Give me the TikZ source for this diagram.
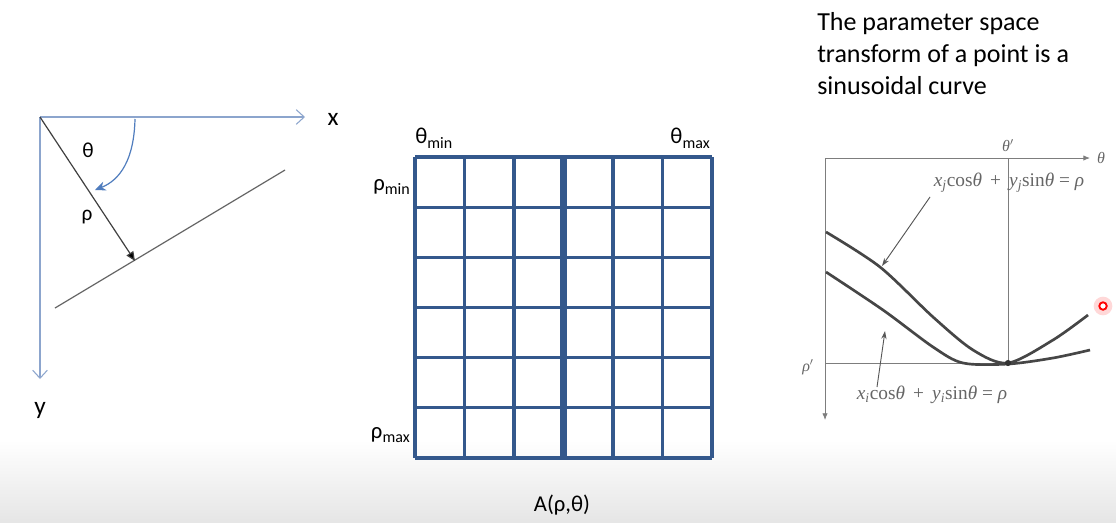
\documentclass[tikz,border=0pt]{standalone}
\usepackage{fontspec}
\setmainfont{Carlito}
\newfontfamily\eqfont{Liberation Serif}
\usetikzlibrary{arrows.meta,positioning,calc}
\definecolor{gridblue}{RGB}{52,88,140}
\definecolor{axisblue}{RGB}{140,165,205}
\definecolor{arcblue}{RGB}{80,125,190}
\definecolor{curvegray}{RGB}{70,70,70}
\definecolor{thingray}{RGB}{125,125,125}
\newcommand{\lo}[1]{\raisebox{-0.45ex}{\fontsize{12}{12}\selectfont #1}}
\begin{document}
\begin{tikzpicture}[x=0.75pt,y=-0.75pt,>=Stealth,font=\fontsize{17}{20}\selectfont]
\tikzstyle{lbl}=[inner sep=0pt]
\tikzstyle{gl}=[gridblue,line width=2.3pt]
\tikzstyle{eq}=[inner sep=0pt,text=black!60,font=\eqfont\fontsize{14.5}{16}\selectfont]
\useasboundingbox (0,0) rectangle (1116,522);
\fill[white] (0,0) rectangle (1116,522);
\shade[top color=white,bottom color=black!10] (0,440) rectangle (1116,522);
% image plane
\coordinate (o) at (40,117); \coordinate (xe) at (305,117); \coordinate (ye) at (40,379);
\coordinate (foot) at (135,261); \coordinate (la) at (55,308); \coordinate (lb) at (285,170);
\node[lbl,font=\fontsize{19}{20}\selectfont] (xl) at (333,119) {x};
\node[lbl,font=\fontsize{19}{20}\selectfont] (yl) at (40,410) {y};
\node[lbl,font=\fontsize{16}{17}\selectfont] (th) at (88,150) {θ};
\node[lbl,font=\fontsize{16}{17}\selectfont] (rh) at (87,217) {ρ};
\draw[axisblue,line width=0.8pt,-{Straight Barb[length=6pt,width=11pt]}] (o) -- (xe);
\draw[axisblue,line width=0.8pt,-{Straight Barb[length=6pt,width=11pt]}] (o) -- (ye);
\draw[black!60,line width=0.9pt] (la) -- (lb);
\draw[black!75,line width=0.9pt,-{Triangle[length=7pt,width=6pt,fill=black]}] (o) -- (foot);
\draw[arcblue,line width=0.9pt,-{Stealth[length=8pt,width=7pt]}] (135,119) .. controls (134,160) and (120,180) .. (95,190);
% accumulator array
\foreach \i in {0,...,6} {
 \draw[gl] (415+\i*49.5,157) -- (415+\i*49.5,458);
 \draw[gl] (415,157+\i*50.17) -- (712,157+\i*50.17);
}
\draw[gridblue,line width=4.6pt] (563.5,157) -- (563.5,458);
\node[lbl,anchor=west] (tmin) at (415,138) {θ\lo{min}};
\node[lbl,anchor=east] (tmax) at (710,138) {θ\lo{max}};
\node[lbl,anchor=east] (rmin) at (410,187) {ρ\lo{min}};
\node[lbl,anchor=east] (rmax) at (410,435) {ρ\lo{max}};
\node[lbl] (acc) at (562,505) {A(ρ,θ)};
% parameter space
\node[lbl,anchor=north west,align=left,font=\fontsize{19.5}{24}\selectfont] (note) at (817,12) {The parameter space\\transform of a point is a\\sinusoidal curve};
\coordinate (pq) at (825,158); \coordinate (te) at (1090,158); \coordinate (re) at (825,420);
\coordinate (ttop) at (1008,158); \coordinate (pt) at (1008,363); \coordinate (rl) at (825,363); \coordinate (rr) at (1012,363);
\draw[thingray,line width=0.6pt,-{Latex[length=5pt,width=4pt]}] (pq) -- (te);
\draw[thingray,line width=0.6pt,-{Latex[length=5pt,width=4pt]}] (pq) -- (re);
\draw[thingray,line width=0.6pt] (ttop) -- (pt);
\draw[thingray,line width=0.6pt] (rl) -- (rr);
\draw[curvegray,line width=2pt] plot[smooth,tension=0.5] coordinates {(826,232) (880,267) (933,317) (973,350) (1008,363) (1053,340) (1088,315)};
\draw[curvegray,line width=2pt] plot[smooth,tension=0.5] coordinates {(826,272) (883,310) (933,347) (963,363) (1008,364) (1053,358) (1090,350)};
\fill[black!80] (pt) circle (2.3pt);
\node[eq,font=\eqfont\itshape\fontsize{12}{13}\selectfont] (tl) at (1101,158) {θ};
\node[eq,font=\eqfont\itshape\fontsize{12}{13}\selectfont] (tpl) at (1008,146) {θ$'$};
\node[eq,font=\eqfont\itshape\fontsize{12}{13}\selectfont] (rpl) at (808,367) {ρ$'$};
\node[eq] (eqj) at (1009,183) {\textit{x}\textsubscript{\textit{j}}cos\textit{θ} \,+\, \textit{y}\textsubscript{\textit{j}}sin\textit{θ} = \textit{ρ}};
\node[eq] (eqi) at (932,395) {\textit{x}\textsubscript{\textit{i}}cos\textit{θ} \,+\, \textit{y}\textsubscript{\textit{i}}sin\textit{θ} = \textit{ρ}};
\draw[thingray!70!black,line width=0.7pt,-{Stealth[length=6pt,width=4pt]}] (930,197) -- (882,266);
\draw[thingray!70!black,line width=0.7pt,-{Stealth[length=6pt,width=4pt]}] (877,387) -- (885,331);
% cursor
\fill[red!25,opacity=0.6] (1103,306) circle (7pt);
\draw[red,line width=1.4pt,fill=white] (1103,306) circle (2.8pt);
\end{tikzpicture}
\end{document}
